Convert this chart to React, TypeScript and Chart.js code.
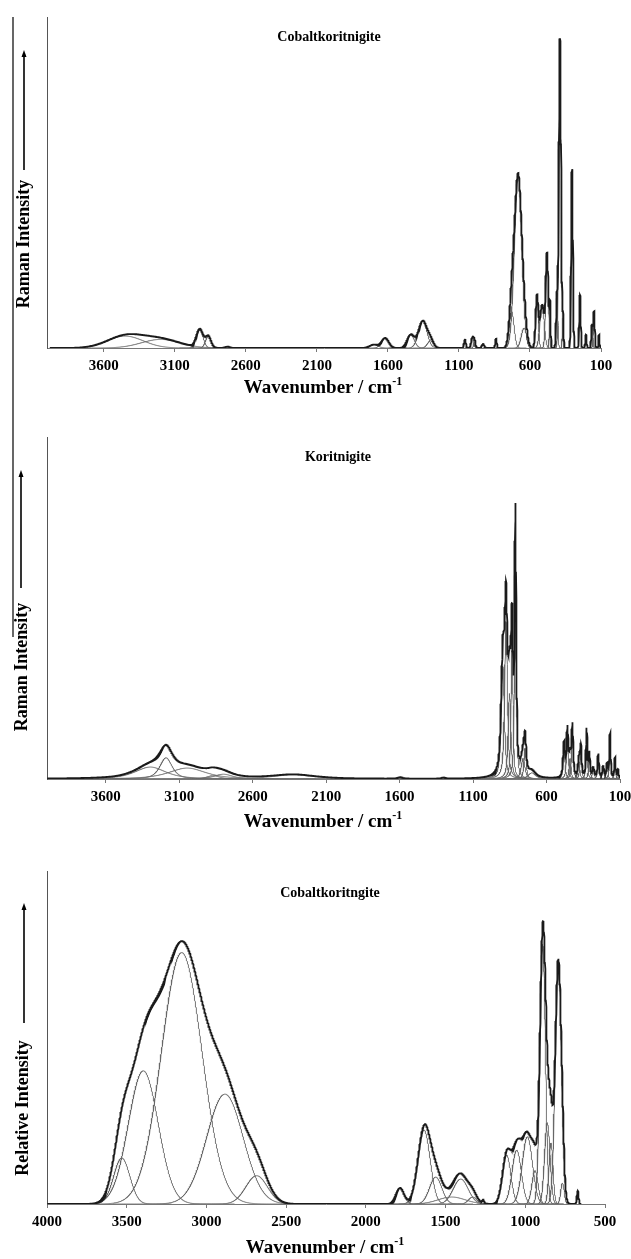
import React, { useEffect, useRef } from "react";
import { Chart, registerables } from "chart.js";
Chart.register(...registerables);

// ---------- Panel 1: Cobaltkoritnigite (Raman) ----------
const p1Ticks = [100, 600, 1100, 1600, 2100, 2600, 3100, 3600];
const p1Range = [100, 3980];
const p1Centers = [3450, 3200, 2925, 2865, 2730, 1700, 1620, 1440, 1355, 1300, 1058, 1005, 990, 931, 839, 729, 684, 642, 551, 515, 480, 459, 410, 389, 368, 304, 248, 206, 163, 149, 114];
const p1Heights = [0.036, 0.026, 0.055, 0.035, 0.004, 0.010, 0.030, 0.040, 0.082, 0.022, 0.025, 0.033, 0.02, 0.012, 0.028, 0.11, 0.52, 0.06, 0.155, 0.13, 0.28, 0.12, 0.15, 0.935, 0.09, 0.54, 0.16, 0.04, 0.07, 0.11, 0.04];
const p1Widths = [300, 320, 55, 45, 40, 70, 60, 60, 70, 50, 15, 20, 15, 20, 12, 40, 60, 45, 22, 35, 22, 10, 14, 18, 10, 14, 12, 10, 12, 12, 8];

// ---------- Panel 2: Koritnigite (Raman) ----------
const p2Ticks = [100, 600, 1100, 1600, 2100, 2600, 3100, 3600];
const p2Range = [100, 4000];
const p2Centers = [3297, 3190, 3046, 2870, 2800, 2324, 1597, 1304, 898, 876, 852, 835, 812, 760, 746, 700, 481, 458, 440, 424, 380, 367, 327, 309, 282, 248, 214, 188, 168, 134, 114];
const p2Heights = [0.035, 0.062, 0.032, 0.01, 0.014, 0.012, 0.004, 0.003, 0.33, 0.46, 0.25, 0.38, 0.75, 0.06, 0.09, 0.018, 0.10, 0.14, 0.06, 0.15, 0.05, 0.09, 0.14, 0.07, 0.03, 0.07, 0.035, 0.04, 0.13, 0.06, 0.025];
const p2Widths = [250, 100, 300, 100, 150, 350, 40, 30, 26, 22, 22, 16, 13, 30, 18, 60, 15, 14, 15, 13, 15, 13, 11, 12, 15, 12, 14, 12, 10, 10, 10];

// ---------- Panel 3: Cobaltkoritngite (infrared) ----------
const p3Ticks = [500, 1000, 1500, 2000, 2500, 3000, 3500, 4000];
const p3Range = [650, 4000];
const p3Centers = [3531, 3396, 3155, 2884, 2685, 1786, 1635, 1562, 1462, 1405, 1330, 1265, 1117, 1054, 987, 939, 891, 862, 839, 793, 767, 671];
const p3Heights = [0.138, 0.40, 0.755, 0.33, 0.085, 0.048, 0.222, 0.081, 0.021, 0.075, 0.021, 0.01, 0.147, 0.162, 0.202, 0.10, 0.78, 0.244, 0.183, 0.733, 0.063, 0.040];
const p3Widths = [120, 220, 300, 270, 160, 60, 90, 90, 200, 110, 60, 15, 62, 68, 75, 45, 40, 40, 30, 45, 25, 12];

const SERIF = "'Liberation Serif', 'Times New Roman', serif";

function band(x: number, c: number, h: number, w: number, eta: number) {
  const d = (x - c) / w;
  const g = Math.exp(-4 * Math.LN2 * d * d);
  const l = 1 / (1 + 4 * d * d);
  return h * (eta * l + (1 - eta) * g);
}

type Panel = {
  ticks: number[];
  range: number[];
  centers: number[];
  heights: number[];
  widths: number[];
  eta: number;
  min: number;
  max: number;
  height: number;
  padTop: number;
  padRight: number;
  axisH: number;
};

function buildDatasets(p: Panel) {
  const env: { x: number; y: number }[] = [];
  for (let x = p.range[0]; x <= p.range[1]; x += 1) {
    let s = 0;
    for (let i = 0; i < p.centers.length; i++) s += band(x, p.centers[i], p.heights[i], p.widths[i], p.eta);
    env.push({ x, y: s });
  }
  const sets: any[] = [
    { data: env, borderColor: "#1a1a1a", borderWidth: 1.8, pointRadius: 0, tension: 0 },
  ];
  for (let i = 0; i < p.centers.length; i++) {
    const c = p.centers[i], w = p.widths[i];
    const span = p.eta > 0 ? 7 : 2.6;
    const lo = Math.max(p.range[0], c - span * w);
    const hi = Math.min(p.range[1], c + span * w);
    const step = Math.min(1, w / 15);
    const pts: { x: number; y: number }[] = [];
    for (let x = lo; x <= hi; x += step) pts.push({ x, y: band(x, c, p.heights[i], w, p.eta) });
    sets.push({ data: pts, borderColor: "#666", borderWidth: 0.9, pointRadius: 0, tension: 0 });
  }
  return sets;
}

function SpectrumChart({ p, top }: { p: Panel; top: number }) {
  const ref = useRef<HTMLCanvasElement>(null);
  useEffect(() => {
    if (!ref.current) return;
    const chart = new Chart(ref.current, {
      type: "line",
      data: { datasets: buildDatasets(p) },
      options: {
        responsive: false,
        animation: false,
        events: [],
        parsing: false as any,
        layout: { padding: { left: 0, top: p.padTop, right: p.padRight, bottom: 0 } },
        plugins: { legend: { display: false }, tooltip: { enabled: false }, title: { display: false } },
        elements: { point: { radius: 0 }, line: { tension: 0 } },
        scales: {
          x: {
            type: "linear",
            reverse: true,
            min: p.min,
            max: p.max,
            afterBuildTicks: (s: any) => {
              s.ticks = p.ticks.map((v) => ({ value: v }));
            },
            afterFit: (s: any) => {
              s.height = p.axisH;
              s.paddingLeft = 0;
              s.paddingRight = 0;
            },
            ticks: {
              autoSkip: false,
              maxRotation: 0,
              padding: 5,
              color: "#000",
              font: { family: SERIF, size: 15, weight: "bold" },
              callback: (v: any) => String(v),
            },
            grid: { display: true, drawOnChartArea: false, drawTicks: true, tickLength: 4, color: "#777" },
            border: { display: true, color: "#777", width: 1 },
          },
          y: {
            type: "linear",
            min: 0,
            max: 1,
            ticks: { display: false },
            grid: { display: false },
            border: { display: true, color: "#555", width: 1 },
            afterFit: (s: any) => {
              s.width = 47;
              s.paddingTop = 0;
              s.paddingBottom = 0;
            },
          },
        },
      } as any,
    });
    return () => chart.destroy();
  }, []);
  return (
    <canvas
      ref={ref}
      width={631}
      height={p.height}
      style={{ position: "absolute", left: 0, top, width: 631, height: p.height }}
    />
  );
}

const panel1: Panel = { ticks: p1Ticks, range: p1Range, centers: p1Centers, heights: p1Heights, widths: p1Widths, eta: 0, min: 100, max: 4000, height: 400, padTop: 17, padRight: 30, axisH: 52 };
const panel2: Panel = { ticks: p2Ticks, range: p2Range, centers: p2Centers, heights: p2Heights, widths: p2Widths, eta: 0.65, min: 100, max: 4000, height: 390, padTop: 17, padRight: 11, axisH: 31 };
const panel3: Panel = { ticks: p3Ticks, range: p3Range, centers: p3Centers, heights: p3Heights, widths: p3Widths, eta: 0, min: 500, max: 4000, height: 400, padTop: 31, padRight: 26, axisH: 36 };

function Txt({ x, y, size, children, rotate }: any) {
  return (
    <div
      style={{
        position: "absolute",
        left: x,
        top: y,
        transform: `translate(-50%, -50%)${rotate ? " rotate(-90deg)" : ""}`,
        fontFamily: SERIF,
        fontWeight: "bold",
        fontSize: size,
        color: "#000",
        whiteSpace: "nowrap",
        lineHeight: 1,
      }}
    >
      {children}
    </div>
  );
}

function XTitle({ x, y }: { x: number; y: number }) {
  return (
    <Txt x={x} y={y} size={19}>
      Wavenumber / cm<span style={{ fontSize: 12, verticalAlign: "super", lineHeight: 0 }}>-1</span>
    </Txt>
  );
}

function Arrow({ x, y1, y2 }: { x: number; y1: number; y2: number }) {
  return (
    <g>
      <line x1={x} y1={y2} x2={x} y2={y1 + 5} stroke="#000" strokeWidth={1.6} />
      <polygon points={`${x},${y1} ${x - 2.5},${y1 + 7} ${x + 2.5},${y1 + 7}`} fill="#000" />
    </g>
  );
}

export default function App() {
  return (
    <div style={{ position: "absolute", left: 0, top: 0, width: 631, height: 1259, background: "#fff", overflow: "hidden" }}>
      <SpectrumChart p={panel1} top={0} />
      <SpectrumChart p={panel2} top={420} />
      <SpectrumChart p={panel3} top={840} />
      <svg width={631} height={1259} style={{ position: "absolute", left: 0, top: 0, pointerEvents: "none" }}>
        <line x1={13} y1={17} x2={13} y2={637} stroke="#000" strokeWidth={1.2} />
        <Arrow x={24} y1={50} y2={170} />
        <Arrow x={21} y1={470} y2={588} />
        <Arrow x={24} y1={903} y2={1023} />
      </svg>
      <Txt x={329} y={37} size={14}>Cobaltkoritnigite</Txt>
      <Txt x={338} y={457} size={14}>Koritnigite</Txt>
      <Txt x={330} y={893} size={14}>Cobaltkoritngite</Txt>
      <Txt x={23} y={244} size={18} rotate>Raman Intensity</Txt>
      <Txt x={21} y={667} size={18} rotate>Raman Intensity</Txt>
      <Txt x={22} y={1108} size={18} rotate>Relative Intensity</Txt>
      <XTitle x={323} y={386} />
      <XTitle x={323} y={820} />
      <XTitle x={325} y={1246} />
    </div>
  );
}
